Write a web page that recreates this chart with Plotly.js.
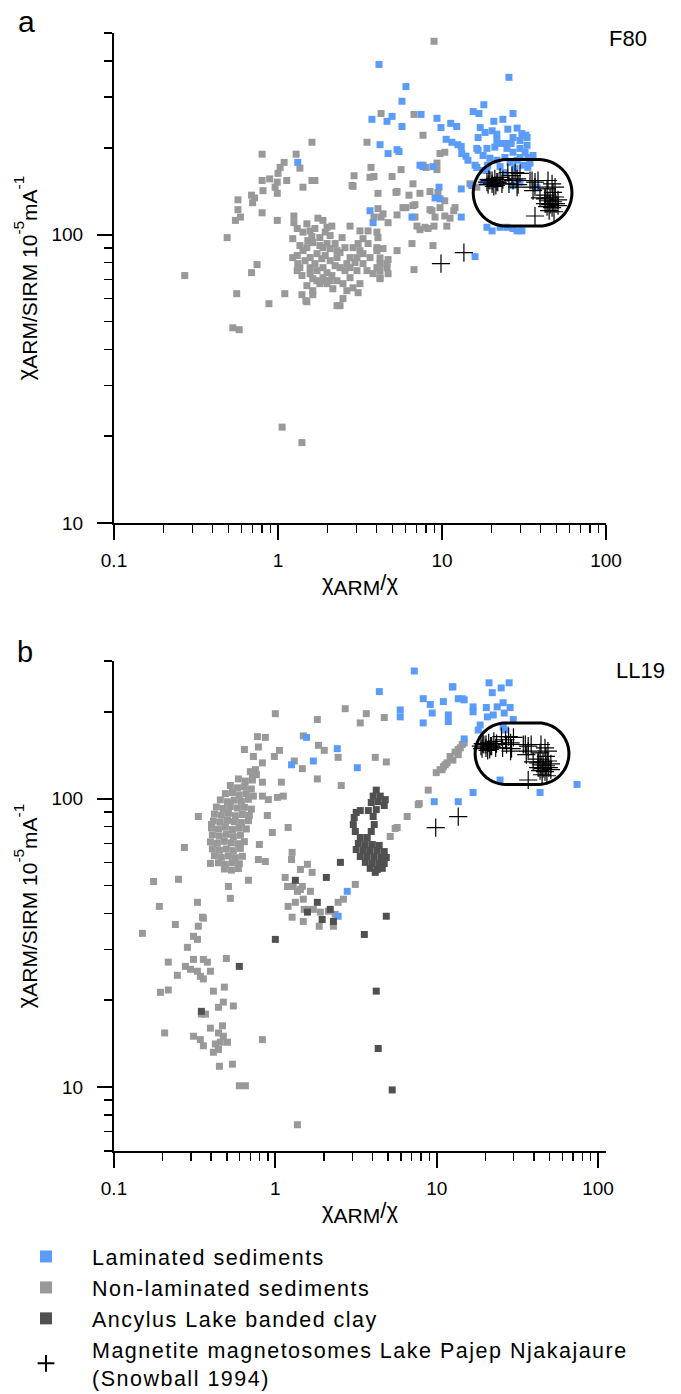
<!DOCTYPE html>
<html>
<head>
<meta charset="utf-8">
<script src="https://cdn.plot.ly/plotly-3.0.1.min.js"></script>
<style>
  html, body { margin: 0; padding: 0; background: #fff; }
  #chart { width: 681px; height: 1394px; }
</style>
</head>
<body>
<div id="chart"></div>
<script>
// ---------- Core F80: non-laminated sediments (χARM/χ, χARM/SIRM) ----------
const grayA_x = [
  1.61, 0.80, 1.29, 1.09, 1.00, 1.03, 1.36, 0.80, 0.89, 0.99,
  1.13, 1.61, 1.68, 1.42, 0.81, 0.96, 0.99, 0.69, 0.72, 0.70,
  0.57, 0.57, 0.59, 0.55, 0.80, 0.99, 1.25, 1.25, 0.49, 0.27,
  0.56, 0.69, 0.745, 0.88, 1.10, 1.40, 1.50, 1.63, 1.48, 0.53,
  0.58, 1.06, 1.40, 1.94, 2.08, 2.29,
  1.31, 1.50, 1.57, 1.75, 1.88, 1.99, 2.13, 2.08, 1.80, 1.63,
  1.50, 1.42, 1.31, 1.32, 1.57, 1.73, 1.88, 2.23, 2.29, 2.56,
  2.75, 2.63, 2.39, 2.08, 1.88, 1.73, 1.57, 1.63, 1.88, 2.13,
  2.29, 2.49, 2.75, 3.03, 3.30, 3.64, 4.01, 4.37, 3.49, 3.80,
  4.19, 4.62, 4.69, 3.16, 2.87, 2.63, 3.08, 2.49, 2.39, 1.23,
  1.36, 1.73, 1.99, 1.50, 1.31, 2.75, 2.29, 2.46, 1.99, 1.57,
  3.30, 3.54, 3.03, 2.87, 4.01, 4.19,
  1.42, 1.68, 1.94, 1.61, 1.80, 2.08, 2.39, 1.46, 1.68, 1.94,
  2.23, 2.56, 1.99, 1.40, 1.80, 2.16, 1.63, 2.95, 3.16, 1.85,
  1.36, 1.23, 1.52,
  3.49, 2.91, 2.87, 3.64, 3.85, 3.69, 5.63, 4.96, 4.07, 5.32,
  6.29, 6.65, 7.34, 8.45, 10.4, 9.72, 4.07, 4.25, 4.37, 3.85,
  4.69, 5.32, 6.03, 6.65, 6.84, 7.04, 7.34, 7.88, 8.69, 9.07,
  8.94, 10.4, 11.2, 11.8, 10.7, 2.75, 3.54, 3.30, 3.08, 4.01,
  4.07, 4.01, 5.32, 6.56, 8.81, 6.75, 4.69, 4.62, 4.19, 4.19,
  7.66, 6.75, 4.25, 7.99, 9.32, 14.8, 10.4, 9.72, 8.94, 9.32,
  7.66, 2.83, 5.24, 9.45, 16.3, 5.78, 6.84, 8.45, 12.0, 8.22,
  3.16, 4.19
];
const grayA_y = [
  209, 190, 190, 178, 163, 171, 170, 154, 156, 152,
  154, 154, 154, 146, 142, 146, 139, 137, 134, 129,
  132, 122, 115, 112, 119, 112, 116, 110, 97.6, 72.1,
  62.4, 73.8, 78.7, 57.6, 62.4, 61.9, 58.5, 61.9, 59.0, 47.5,
  46.8, 21.5, 19.0, 69.2, 69.2, 56.7,
  105, 109, 103, 114, 112, 106, 107, 99.2, 97.6, 93.8,
  90.1, 88.0, 84.6, 79.3, 83.2, 85.9, 90.1, 93.1, 88.0, 90.1,
  83.2, 79.3, 76.8, 81.2, 76.8, 75.0, 73.2, 70.3, 70.9, 72.1,
  69.2, 67.6, 70.9, 75.0, 79.3, 83.2, 88.0, 89.4, 75.0, 73.2,
  70.9, 79.3, 73.2, 67.6, 65.4, 63.9, 62.9, 60.0, 56.7, 83.2,
  76.8, 69.2, 67.6, 66.5, 75.0, 76.8, 83.2, 97.6, 93.1, 76.8,
  85.9, 93.1, 83.2, 90.1, 76.8, 79.3,
  102, 105, 102, 98.4, 91.6, 89.4, 86.6, 81.2, 79.3, 84.6,
  78.0, 75.0, 73.8, 72.1, 67.6, 64.9, 63.9, 80.0, 88.0, 82.5,
  91.6, 96.8, 95.3,
  209, 160, 147, 158, 159, 171, 168, 159, 139, 141,
  137, 150, 139, 141, 131, 124, 123, 115, 118, 115,
  110, 117, 124, 126, 115, 107, 104, 106, 121, 115,
  107, 116, 114, 121, 107, 107, 103, 96.8, 93.1, 102,
  97.6, 90.1, 88.0, 93.1, 91.6, 75.6, 81.9, 76.8, 75.0, 70.3,
  221, 261, 263, 171, 177, 150, 193, 191, 468, 168,
  174, 148, 140, 140, 146, 124, 127, 122, 124, 105,
  103, 83
];

// ---------- Core F80: laminated sediments ----------
const blueA_x = [
  4.13, 25.6, 6.03, 5.70, 18.0, 15.5, 16.8, 27.1, 3.74, 4.62,
  4.96, 5.70, 7.45, 9.32, 9.86, 11.3, 12.3, 20.7, 23.5, 21.6,
  25.2, 28.7, 32.5, 27.1, 26.4, 4.19, 4.69, 5.32, 5.47, 10.6,
  11.5, 12.5, 13.1, 13.2, 14.0, 14.4, 15.9, 16.6, 16.3, 18.8,
  21.0, 22.6, 24.9, 27.1, 29.9, 32.1, 33.4, 33.4, 29.9, 16.6,
  7.66, 8.81, 9.59, 9.07, 9.72, 13.1, 3.64, 3.80, 6.56, 13.1,
  15.9, 18.8, 20.2, 22.6, 24.9, 27.1, 28.7, 30.7, 17.8, 21.6,
  27.1, 29.9, 37.9, 1.32, 17.8, 19.6, 21.6, 24.2, 26.0, 28.7,
  31.4, 34.4, 19.0, 22.6, 35.9, 27.9, 17.8, 24.2, 21.6, 24.2,
  29.9, 33.0, 16.3, 18.8, 20.2, 15.2, 7.34, 17.1, 18.3, 20.2,
  30.7, 33.0
];
const blueA_y = [
  389, 351, 326, 290, 282, 267, 263, 263, 251, 247,
  257, 237, 261, 253, 235, 243, 237, 247, 251, 223,
  232, 234, 221, 217, 207, 205, 191, 197, 194, 214,
  209, 205, 202, 191, 187, 181, 174, 217, 199, 199,
  201, 207, 199, 193, 199, 193, 185, 171, 185, 196,
  172, 172, 146, 134, 133, 144, 121, 110, 115, 115,
  83.9, 106, 103, 106, 106, 105, 103, 103, 152, 150,
  148, 152, 146, 178, 188, 184, 181, 185, 178, 181,
  174, 177, 174, 172, 188, 170, 167, 164, 212, 207,
  212, 204, 171, 167, 152, 148, 174, 235, 226, 229,
  224, 217
];

// ---------- Magnetite magnetosomes, Lake Pajep Njakajaure (Snowball 1994) ----------
const magnetosome_x = [
  18.8, 19.6, 20.2, 21.0, 21.6, 22.6, 21.9, 23.5, 21.3, 20.2,
  23.2, 19.3, 20.7, 19.1, 25.2, 27.9, 26.7, 28.7, 27.1, 29.9,
  25.6, 28.7, 29.1, 34.4, 35.4, 36.9, 38.5, 36.9, 35.9, 44.3,
  46.9, 48.9, 43.7, 47.5, 42.5, 45.6, 48.9, 44.3, 47.5, 51.0,
  42.5, 45.6, 49.5, 46.9, 43.7, 51.0, 45.0, 48.2, 39.6, 42.5,
  36.9, 9.86, 13.6
];
const magnetosome_y = [
  152, 154, 154, 156, 152, 158, 152, 155, 148, 150,
  150, 155, 147, 149, 164, 164, 160, 156, 154, 163,
  150, 146, 149, 154, 154, 152, 154, 146, 142, 154,
  150, 146, 144, 140, 137, 134, 135, 131, 130, 132,
  128, 127, 128, 124, 125, 126, 121, 120, 134, 133,
  116, 79.3, 86.6
];

// ---------- Core LL19: non-laminated sediments ----------
const grayB_x = [
  1.00, 1.82, 2.71, 3.66, 3.36, 4.73, 0.774, 0.867, 0.785, 0.643,
  0.731, 1.06, 0.986, 0.831, 0.752, 0.721, 1.85, 2.01, 1.49, 2.45,
  1.47, 1.31, 1.82, 2.56, 4.16, 4.87, 0.831, 1.09, 0.831, 0.905,
  1.03, 1.12, 0.892, 0.333, 0.402, 0.958, 1.20, 0.273, 0.796, 0.785,
  0.867, 0.396, 0.681, 0.512, 0.526, 0.251, 0.176, 0.191, 0.329, 0.353,
  0.240, 0.333, 0.358, 0.150, 0.311, 0.329, 0.285, 0.217, 0.247, 0.311,
  0.358, 0.379, 0.277, 0.298, 0.329, 0.343, 0.358, 0.396, 0.497, 0.194,
  0.217, 0.413, 0.483, 0.348, 0.369, 0.444, 0.476, 0.549, 0.206, 0.311,
  0.343, 0.358, 0.396, 0.470, 0.444, 0.476, 0.505, 0.456, 0.425, 0.413,
  0.444, 0.831, 0.450, 0.542, 0.598, 0.652, 1.37, 1.27, 1.26, 1.58,
  1.43, 1.69, 1.15, 1.29, 1.43, 1.65, 1.20, 1.33, 1.49, 1.58,
  1.72, 1.27, 1.49, 1.37, 1.47, 1.51, 1.90, 2.13, 2.35, 1.87,
  2.29, 1.19, 3.13, 2.64, 2.45, 5.15, 5.69, 6.56, 7.68, 8.86,
  9.93, 11.0, 12.6, 13.6, 14.0, 13.6, 11.6, 10.8, 7.79, 5.53,
  14.8, 12.1, 11.3, 10.5, 13.0, 14.4,
  0.700, 0.763,
  0.590, 0.652, 0.721,
  0.526, 0.582, 0.643, 0.710,
  0.490, 0.542, 0.598, 0.661, 0.731,
  0.456, 0.505, 0.557, 0.616, 0.681,
  0.431, 0.476, 0.526, 0.582, 0.643, 0.710,
  0.419, 0.463, 0.512, 0.565, 0.625, 0.690,
  0.413, 0.456, 0.505, 0.557, 0.616, 0.681,
  0.402, 0.444, 0.490, 0.542, 0.598, 0.661,
  0.407, 0.450, 0.497, 0.549, 0.607,
  0.396, 0.437, 0.483, 0.534, 0.590, 0.643,
  0.407, 0.450, 0.497, 0.549, 0.607,
  0.419, 0.463, 0.512, 0.565, 0.625,
  0.444, 0.490, 0.542, 0.598,
  0.483, 0.534, 0.590
];
const grayB_y = [
  197, 188, 205, 197, 183, 191, 164, 163, 151, 148,
  140, 147, 140, 133, 126, 121, 153, 147, 165, 139,
  127, 135, 117, 111, 139, 134, 114, 114, 102, 99.2,
  101, 102, 87.4, 86.7, 81.3, 76.3, 79.4, 67.7, 69.3, 61.5,
  60.5, 59.6, 52.1, 49.6, 45.1, 52.5, 51.6, 42.3, 43.7, 38.8,
  36.6, 36.1, 38.5, 34.1, 33.3, 32.5, 30.5, 27.1, 24.4, 27.7,
  27.7, 27.1, 26.2, 25.6, 25.2, 24.2, 23.7, 25.2, 27.9, 21.3,
  21.7, 21.5, 22.2, 17.9, 17.9, 18.9, 19.7, 19.1, 15.4, 15.0,
  14.6, 13.9, 16.0, 16.3, 15.4, 15.0, 14.3, 14.3, 14.1, 13.2,
  13.5, 14.6, 11.8, 12.0, 10.1, 10.1, 7.40, 65.1, 61.5, 59.2,
  56.8, 55.5, 53.3, 49.6, 48.4, 47.7, 42.3, 43.7, 44.8, 41.3,
  41.3, 38.8, 37.5, 47.7, 49.6, 41.3, 40.4, 40.7, 39.7, 36.1,
  36.1, 49.6, 50.4, 44.8, 43.7, 73.9, 79.4, 86.7, 95.3, 107,
  123, 129, 136, 148, 150, 142, 133, 126, 96.1, 78.8,
  156, 140, 131, 126, 145, 154,
  124, 121,
  117, 115, 116,
  111, 109, 110, 108,
  104, 105, 103, 104, 102,
  99.0, 97.5, 98.8, 97.9, 99.5,
  93.5, 92.4, 93.9, 92.8, 93.3, 92.0,
  88.4, 87.6, 88.9, 87.2, 88.1, 87.5,
  83.6, 82.9, 84.0, 83.1, 82.6, 83.8,
  79.2, 78.4, 79.6, 78.1, 79.0, 78.5,
  74.9, 74.1, 75.2, 73.8, 74.6,
  70.8, 70.0, 71.1, 70.2, 69.8, 70.9,
  67.0, 66.2, 66.9, 66.0, 67.2,
  63.4, 62.6, 63.3, 62.4, 63.1,
  59.9, 59.2, 60.0, 59.4,
  57.0, 56.5, 57.2
];

// ---------- Core LL19: laminated sediments ----------
const blueB_x = [
  7.26, 4.41, 12.6, 21.1, 25.1, 28.1, 22.1, 8.25, 9.12, 11.0,
  9.38, 8.25, 5.94, 5.94, 11.8, 11.8, 14.4, 14.8, 16.8, 16.8,
  20.3, 23.7, 25.8, 28.5, 29.8, 26.2, 22.4, 20.6, 18.6, 18.1,
  25.8, 26.6, 14.8, 3.22, 9.65, 13.6, 16.8, 24.7, 43.7, 74.1,
  1.56, 2.42, 1.26, 1.72, 13.6, 12.5, 2.79, 2.45
];
const blueB_y = [
  277, 235, 244, 252, 242, 252, 233, 222, 212, 217,
  198, 183, 203, 192, 195, 185, 222, 220, 208, 200,
  207, 208, 215, 207, 188, 198, 195, 192, 180, 173,
  177, 173, 161, 128, 97.6, 97.6, 105, 116, 105, 112,
  163, 149, 131, 135, 222, 244, 47.7, 39.1
];

// ---------- Core LL19: Ancylus Lake banded clay ----------
const darkB_x = [
  1.33, 2.07, 2.53, 4.87, 3.56, 4.22, 4.34, 5.30, 1.00, 0.598,
  0.348, 1.82, 1.58, 1.95, 2.19, 2.29,
  4.22, 4.04, 4.47, 4.80, 4.34, 3.93, 4.73,
  3.36, 3.77, 3.08, 3.04, 3.13, 4.04, 4.10, 3.93, 3.36, 3.71, 4.22, 3.17,
  3.27, 3.61, 3.99, 4.40, 3.17, 3.51, 3.87, 4.28, 4.73, 3.36, 3.71,
  4.10, 4.53, 4.87, 3.61, 3.99, 4.40, 4.73, 3.87, 4.28, 4.60, 4.16
];
const darkB_y = [
  52.1, 53.3, 60.1, 39.1, 33.8, 21.5, 13.6, 9.77, 32.5, 26.2,
  18.3, 43.7, 40.4, 38.1, 41.3, 37.5,
  107, 102, 102, 99.2, 97.6, 96.9, 94.6,
  90.9, 90.9, 86.0, 81.3, 76.9, 86.7, 81.3, 76.9, 73.3, 73.3, 91.6, 89.5,
  69.9, 69.3, 69.3, 68.8, 66.6, 66.1, 66.1, 66.1, 65.5, 63.0, 63.0,
  63.0, 62.5, 62.5, 60.1, 59.6, 59.6, 59.6, 57.3, 56.8, 57.3, 55.5
];

// Field of the magnetosome reference data, outlined in each panel
const magnetosomeFieldA = { x: [15.5, 62], y: [107, 182] };
const magnetosomeFieldB = { x: [17.3, 66], y: [112, 183] };

// Axis extents and ticks
const xRangeA = [0.1, 100], yRangeA = [10, 500];
const xRangeB = [0.1, 112], yRangeB = [6, 300];
const xMajor = [0.1, 1, 10, 100], xMajorText = ['0.1', '1', '10', '100'];
const yMajor = [10, 100], yMajorText = ['10', '100'];
const xMinor = [0.2,0.3,0.4,0.5,0.6,0.7,0.8,0.9, 2,3,4,5,6,7,8,9, 20,30,40,50,60,70,80,90];
const yMinorA = [20,30,40,50,60,70,80,90, 200,300,400,500];
const yMinorB = [6,7,8,9, 20,30,40,50,60,70,80,90, 200,300];

// legend labels (set slightly letter-spaced)
const wide = s => '<span style="letter-spacing:1.5px">' + s + '</span>';
const names = {
  lam: wide('Laminated sediments'),
  non: wide('Non-laminated sediments'),
  anc: wide('Ancylus Lake banded clay'),
  mag: wide('Magnetite magnetosomes Lake Pajep Njakajaure') + '<br>' + wide('(Snowball 1994)')
};

// ---------- styling ----------
const FONT = 'Liberation Sans, Arial, Helvetica, sans-serif';
const W = 681, H = 1394;
const PLOT_L = 114, PLOT_R = 606;           // horizontal extent of both plot areas (px)
const plotW = PLOT_R - PLOT_L;
const C_LAM = '#5b9cfb', C_NON = '#999999', C_ANC = '#505050';
const SQ = 7;

function squares(x, y, color, xa, ya, name, rank, show) {
  return {
    type: 'scatter', mode: 'markers', x: x, y: y, xaxis: xa, yaxis: ya,
    name: name, legendgroup: 'g' + rank, legendrank: rank, showlegend: show,
    marker: { symbol: 'square', size: SQ, color: color, line: { width: 0 } },
    hoverinfo: 'skip'
  };
}
function crosses(xa, ya, show) {
  return {
    type: 'scatter', mode: 'markers', x: magnetosome_x, y: magnetosome_y, xaxis: xa, yaxis: ya,
    name: names.mag, legendgroup: 'g4', legendrank: 4, showlegend: show,
    marker: { symbol: 'cross-thin-open', size: 13, color: '#000', line: { color: '#000', width: 1.2 } },
    hoverinfo: 'skip'
  };
}

const traces = [
  squares(grayA_x, grayA_y, C_NON, 'x', 'y', names.non, 2, false),
  squares(blueA_x, blueA_y, C_LAM, 'x', 'y', names.lam, 1, false),
  crosses('x', 'y', false),
  squares(grayB_x, grayB_y, C_NON, 'x2', 'y2', names.non, 2, true),
  squares(blueB_x, blueB_y, C_LAM, 'x2', 'y2', names.lam, 1, true),
  squares(darkB_x, darkB_y, C_ANC, 'x2', 'y2', names.anc, 3, true),
  crosses('x2', 'y2', true)
];

const lg = v => Math.log10(v);
function axis(range, major, majorText, minor, extra) {
  return Object.assign({
    type: 'log', range: [lg(range[0]), lg(range[1])],
    showline: true, linecolor: '#000', linewidth: 2, mirror: false,
    showgrid: false, zeroline: false,
    ticks: 'outside', ticklen: 15, tickwidth: 2, tickcolor: '#000',
    tickmode: 'array', tickvals: major, ticktext: majorText,
    tickfont: { family: FONT, size: 19, color: '#000' },
    minor: { ticks: 'outside', ticklen: 8, tickwidth: 1.5, tickcolor: '#000',
             tickmode: 'array', tickvals: minor, showgrid: false },
    fixedrange: true, automargin: false
  }, extra);
}

// Rounded outline (stadium) around a data region, in axis-domain units
function stadiumPath(field, xr, yr, axW, axH) {
  const fx = v => (lg(v) - lg(xr[0])) / (lg(xr[1]) - lg(xr[0])) * axW;
  const fy = v => (lg(v) - lg(yr[0])) / (lg(yr[1]) - lg(yr[0])) * axH;
  const x0 = fx(field.x[0]), x1 = fx(field.x[1]);
  const y0 = fy(field.y[0]), y1 = fy(field.y[1]);
  const r = (y1 - y0) / 2, cy = (y0 + y1) / 2, N = 28;
  const pts = [];
  for (let i = 0; i <= N; i++) {
    const a = -Math.PI / 2 + Math.PI * i / N;
    pts.push([x1 - r + r * Math.cos(a), cy + r * Math.sin(a)]);
  }
  for (let i = 0; i <= N; i++) {
    const a = Math.PI / 2 + Math.PI * i / N;
    pts.push([x0 + r + r * Math.cos(a), cy + r * Math.sin(a)]);
  }
  return 'M' + pts.map(p => (p[0] / axW).toFixed(5) + ',' + (p[1] / axH).toFixed(5)).join('L') + 'Z';
}

const domX = [PLOT_L / W, PLOT_R / W];
const domA = [1 - 523 / H, 1 - 33 / H];
const domB = [1 - 1151 / H, 1 - 661 / H];
const axH = (domA[1] - domA[0]) * H;

// subscripts kept near full size, as in the printed figure
const SUB = s => '<sub><span style="font-size:21px">' + s + '</span></sub>';
const xTitle = { text: 'χ' + SUB('ARM') + '/χ', font: { family: FONT, size: 22, color: '#000' }, standoff: 5 };
const yTitle = { text: 'χ' + SUB('ARM/SIRM 10') + '<sup>-5</sup>' + SUB('mA') + '<sup>-1</sup>',
                 font: { family: FONT, size: 22, color: '#000' }, standoff: 12 };

const px2x = px => px / W;
const py2y = py => 1 - py / H;

const layout = {
  width: W, height: H, margin: { l: 0, r: 0, t: 0, b: 0, pad: 0, autoexpand: false },
  paper_bgcolor: '#fff', plot_bgcolor: '#fff',
  font: { family: FONT, size: 19, color: '#000' },
  xaxis: axis(xRangeA, xMajor, xMajorText, xMinor, { domain: domX, anchor: 'y', title: xTitle, ticklabelstandoff: 4 }),
  yaxis: axis(yRangeA, yMajor, yMajorText, yMinorA, { domain: domA, anchor: 'x', title: yTitle, ticklabelstandoff: 10 }),
  xaxis2: axis(xRangeB, xMajor, xMajorText, xMinor, { domain: domX, anchor: 'y2', title: xTitle, ticklabelstandoff: 4 }),
  yaxis2: axis(yRangeB, yMajor, yMajorText, yMinorB, { domain: domB, anchor: 'x2', title: yTitle, ticklabelstandoff: 10 }),
  shapes: [
    { type: 'path', xref: 'x domain', yref: 'y domain', line: { color: '#000', width: 3 },
      path: stadiumPath(magnetosomeFieldA, xRangeA, yRangeA, plotW, axH) },
    { type: 'path', xref: 'x2 domain', yref: 'y2 domain', line: { color: '#000', width: 3 },
      path: stadiumPath(magnetosomeFieldB, xRangeB, yRangeB, plotW, axH) }
  ],
  annotations: [
    { text: 'a', xref: 'paper', yref: 'paper', x: px2x(26), y: py2y(22), xanchor: 'center', yanchor: 'middle',
      showarrow: false, font: { family: FONT, size: 30 } },
    { text: 'b', xref: 'paper', yref: 'paper', x: px2x(25), y: py2y(652), xanchor: 'center', yanchor: 'middle',
      showarrow: false, font: { family: FONT, size: 29 } },
    { text: 'F80', xref: 'paper', yref: 'paper', x: px2x(628), y: py2y(39), xanchor: 'center', yanchor: 'middle',
      showarrow: false, font: { family: FONT, size: 22 } },
    { text: 'LL19', xref: 'paper', yref: 'paper', x: px2x(640), y: py2y(670), xanchor: 'center', yanchor: 'middle',
      showarrow: false, font: { family: FONT, size: 22 } }
  ],
  showlegend: true,
  legend: {
    xref: 'paper', yref: 'paper', x: 0, y: 1 - 1236 / H,
    xanchor: 'left', yanchor: 'top', traceorder: 'grouped', tracegroupgap: 0,
    itemwidth: 82, itemsizing: 'constant', itemclick: false, itemdoubleclick: false,
    bgcolor: 'rgba(0,0,0,0)', borderwidth: 0,
    font: { family: FONT, size: 21.5, color: '#000' }
  }
};

Plotly.newPlot('chart', traces, layout, { staticPlot: true, displayModeBar: false });
</script>
</body>
</html>
